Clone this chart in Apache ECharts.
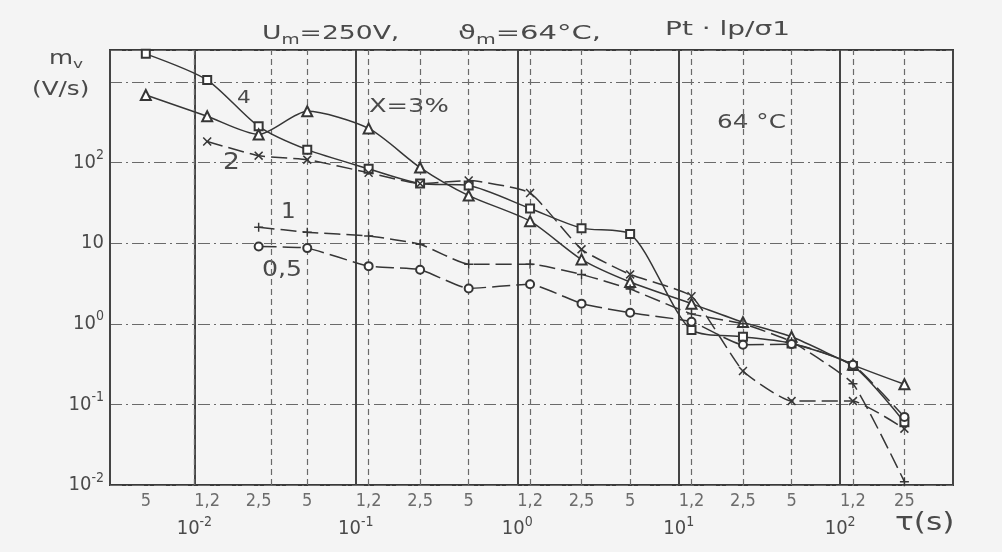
<!DOCTYPE html>
<html><head><meta charset="utf-8">
<script src="https://cdn.jsdelivr.net/npm/echarts@6/dist/echarts.min.js"></script>
<style>html,body{margin:0;padding:0;background:#f4f4f4}#c{width:1002px;height:552px}</style>
</head><body><div id="c"></div>
<script>
// ---- data (tau in s, m_v in V/s) ----
const tauX4 = [0.005, 0.012, 0.025, 0.05, 0.12, 0.25, 0.5, 1.2, 2.5, 5, 12, 25, 50, 120, 250];
const mvX4  = [2240, 1060, 282, 145, 84, 55, 52, 27, 15.4, 13, 0.84, 0.69, 0.57, 0.3, 0.06];
const tauX3 = [0.005, 0.012, 0.025, 0.05, 0.12, 0.25, 0.5, 1.2, 2.5, 5, 12, 25, 50, 120, 250];
const mvX3  = [690, 376, 224, 434, 266, 87, 39, 18.8, 6.3, 3.3, 1.78, 1.05, 0.69, 0.31, 0.178];
const tauX2 = [0.012, 0.025, 0.05, 0.12, 0.25, 0.5, 1.2, 2.5, 5, 12, 25, 50, 120, 250];
const mvX2  = [183, 122, 109, 75, 55, 60, 42, 8.4, 4.1, 2.2, 0.26, 0.11, 0.11, 0.05];
const tauX1 = [0.025, 0.05, 0.12, 0.25, 0.5, 1.2, 2.5, 5, 12, 25, 50, 120, 250];
const mvX1  = [15.8, 13.7, 12.3, 9.7, 5.5, 5.5, 4.1, 2.7, 1.33, 1.0, 0.6, 0.18, 0.011];
const tauX05 = [0.025, 0.05, 0.12, 0.25, 0.5, 1.2, 2.5, 5, 12, 25, 50, 120, 250];
const mvX05  = [9.1, 8.7, 5.2, 4.7, 2.75, 3.1, 1.78, 1.37, 1.06, 0.55, 0.56, 0.31, 0.07];
// minor tick positions and their labels on the tau axis
const minorTicks  = [0.005, 0.012, 0.025, 0.05, 0.12, 0.25, 0.5, 1.2, 2.5, 5, 12, 25, 50, 120, 250];
const minorLabels = ['5', '1,2', '2,5', '5', '1,2', '2,5', '5', '1,2', '2,5', '5', '1,2', '2,5', '5', '1,2', '25'];

const F = "'DejaVu Sans Condensed','DejaVu Sans',sans-serif";
const FW = "'DejaVu Sans',sans-serif";
const TXT = '#4a4a4a';
const LINE = '#363636';
const pair = (xs, ys) => xs.map((x, i) => [x, ys[i]]);
const crossPath = 'path://M0,1.2L1.2,0L5,3.8L8.8,0L10,1.2L6.2,5L10,8.8L8.8,10L5,6.2L1.2,10L0,8.8L3.8,5Z';
const plusPath = 'path://M4.2,0H5.8V4.2H10V5.8H5.8V10H4.2V5.8H0V4.2H4.2Z';

function isDecade(v) { const l = Math.log10(v); return Math.abs(l - Math.round(l)) < 1e-6; }
const powRich = {
  b: { fontSize: 20, fontFamily: F, color: TXT },
  p: { fontSize: 14, fontFamily: F, color: TXT, padding: [0, 0, 14, 0] }
};

// annotation text helper (text only)
function txt(x, y, text, size, sx, rich) {
  const style = { text, fontSize: size, fontFamily: FW, fill: TXT, textAlign: 'left', textVerticalAlign: 'top' };
  if (rich) style.rich = rich;
  return { type: 'text', x, y, scaleX: sx, style };
}
const subRich = (a, s, pad) => ({
  a: { fontSize: a, fontFamily: FW, fill: TXT },
  s: { fontSize: s, fontFamily: FW, fill: TXT, padding: [pad, 0, 0, 0] }
});

const chart = echarts.init(document.getElementById('c'));
const lineBase = (name, data, symbol, size, type, smooth) => ({
  name, type: 'line', data, symbol, symbolSize: size, smooth: smooth,
  showAllSymbol: true, animation: false, z: 5,
  lineStyle: { color: LINE, width: 1.5, type: type },
  itemStyle: { color: LINE, borderColor: LINE,
               borderWidth: symbol.startsWith('path') ? 0 : 1.6 }
});

chart.setOption({
  backgroundColor: '#f4f4f4',
  animation: false,
  grid: { left: 110, right: 49, top: 50, bottom: 67, show: true, borderColor: '#3a3a3a', borderWidth: 2 },
  xAxis: {
    type: 'log', logBase: 10, min: 0.003, max: 500,
    axisLine: { show: false }, axisTick: { show: false },
    splitLine: { show: true, lineStyle: { color: '#444', width: 2 } },
    axisLabel: {
      margin: 30, color: TXT, fontFamily: F, rich: powRich,
      formatter: v => {
        if (!isDecade(v)) return '';
        const e = Math.round(Math.log10(v));
        return '{b|10}{p|' + (e < 0 ? '-' + (-e) : e) + '}';
      }
    }
  },
  yAxis: {
    type: 'log', logBase: 10, min: 0.01, max: 2500,
    axisLine: { show: false }, axisTick: { show: false },
    splitLine: { show: true, lineStyle: { color: '#6a6a6a', width: 1.2, type: [12, 4, 2, 4] } },
    axisLabel: {
      margin: 6, color: TXT, fontFamily: F, rich: powRich,
      formatter: v => {
        if (!isDecade(v)) return '';
        const e = Math.round(Math.log10(v));
        if (e >= 3) return '';
        if (e === 1) return '{b|10}';
        return '{b|10}{p|' + (e < 0 ? '-' + (-e) : e) + '}';
      }
    }
  },
  series: [
    {
      type: 'scatter', data: minorTicks.map(v => [v, 0.01]), symbolSize: 0, clip: false,
      silent: true, z: 1,
      label: { show: true, position: 'bottom', distance: 7, color: TXT, fontFamily: F, fontSize: 18,
               formatter: p => minorLabels[p.dataIndex] },
      markLine: {
        silent: true, symbol: ['none', 'none'], animation: false, label: { show: false },
        lineStyle: { color: '#6a6a6a', width: 1.2, type: [6, 4] },
        data: minorTicks.map(v => ({ xAxis: v }))
      }
    },
    lineBase('X=4', pair(tauX4, mvX4), 'emptyRect', 8, 'solid', 0.25),
    lineBase('X=3%', pair(tauX3, mvX3), 'emptyTriangle', 10, 'solid', 0.25),
    lineBase('X=2', pair(tauX2, mvX2), crossPath, 9, [16, 6], 0.15),
    lineBase('X=1', pair(tauX1, mvX1), plusPath, 9, [16, 6], 0.15),
    lineBase('X=0,5', pair(tauX05, mvX05), 'emptyCircle', 8, [18, 6], 0.15)
  ],
  graphic: [
    txt(262, 20, '{a|U}{s|m}{a|=250V,}', 20, 1.33, subRich(20, 14, 13)),
    txt(458, 20, '{a|ϑ}{s|m}{a|=64°C,}', 20, 1.45, subRich(20, 14, 13)),
    txt(665, 20, 'Pt · lp/σ1', 20, 1.4),
    txt(49, 48, '{a|m}{s|v}', 19, 1.3, subRich(19, 13, 10)),
    txt(32, 81, '(V/s)', 19, 1.3),
    txt(369, 98, 'X=3%', 19, 1.35),
    txt(717, 114, '64 °C', 19, 1.3),
    txt(237, 89, '4', 18, 1.2),
    txt(223, 152, '2', 23, 1.15),
    txt(281, 202, '1', 21, 1.1),
    txt(262, 260, '0,5', 21, 1.2),
    txt(895, 512, 'τ(s)', 24, 1.3)
  ]
});
</script></body></html>
